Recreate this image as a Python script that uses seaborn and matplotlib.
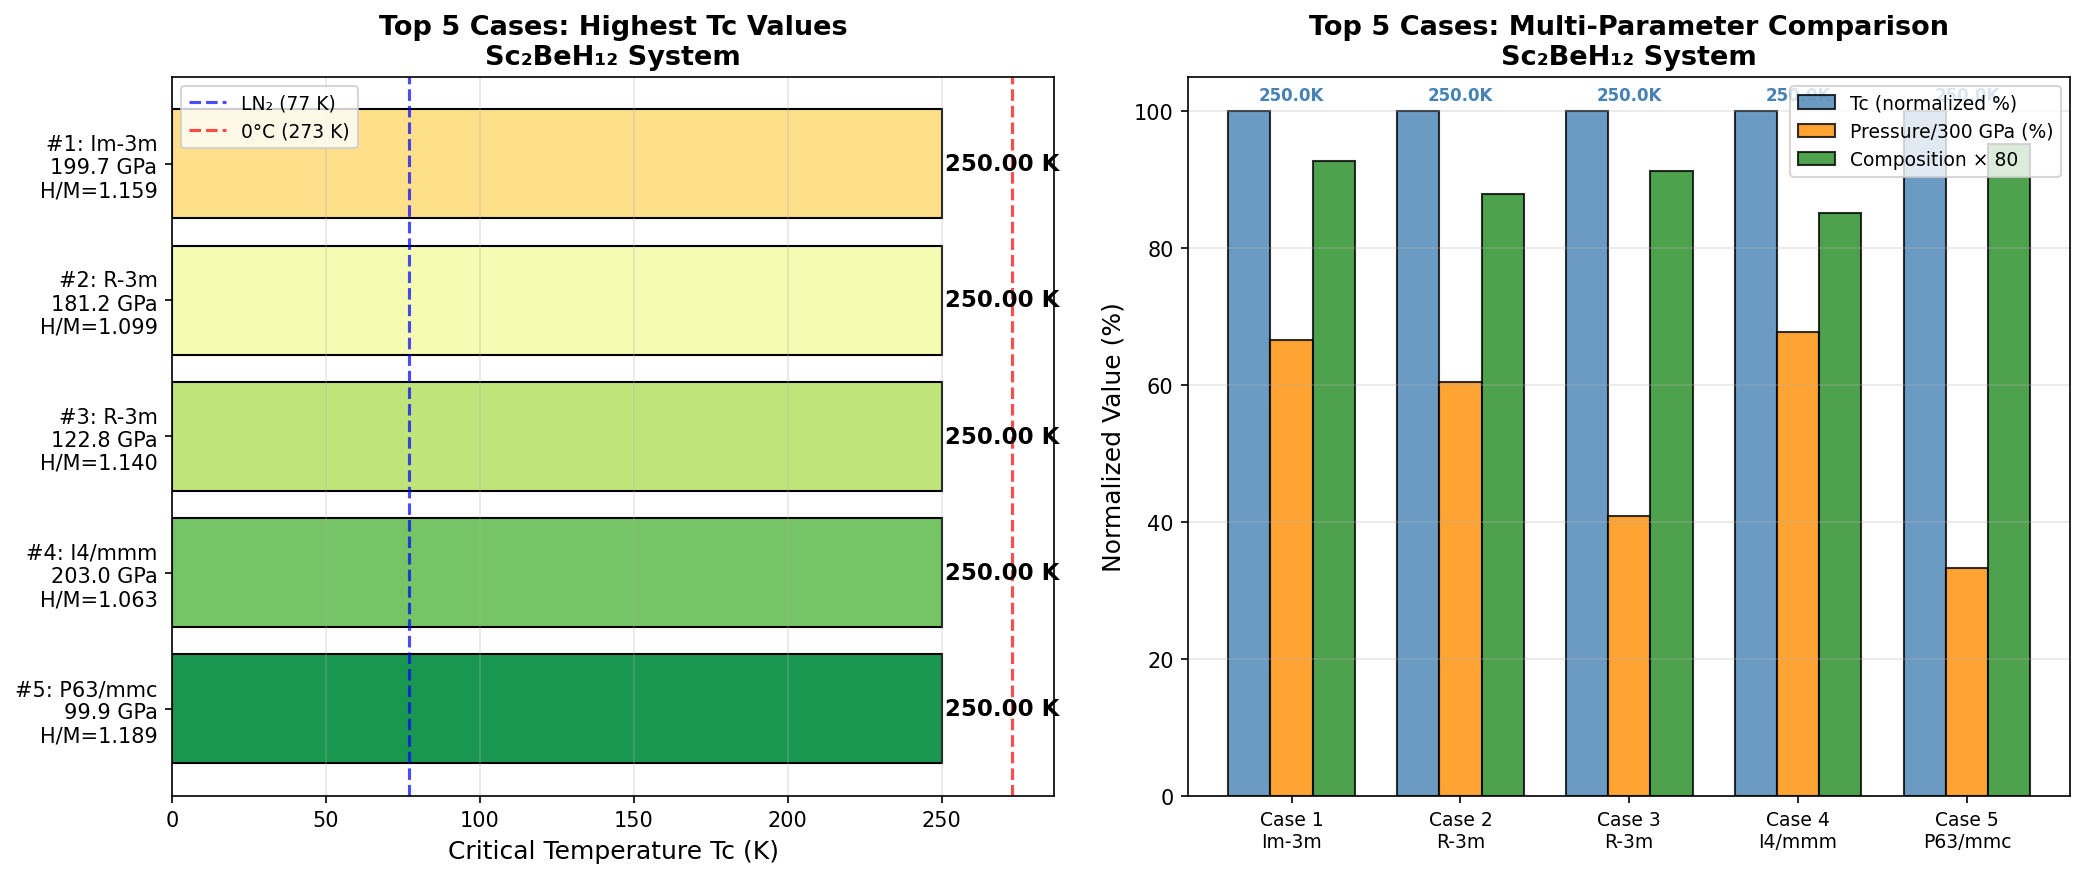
import numpy as np
import pandas as pd
import matplotlib
matplotlib.use("Agg")
import matplotlib.pyplot as plt
import seaborn as sns

# ---- data ----
ranks = [1, 2, 3, 4, 5]
space_groups = ["Im-3m", "R-3m", "R-3m", "I4/mmm", "P63/mmc"]
pressures = [199.7, 181.2, 122.8, 203.0, 99.9]
h_m_ratio = [1.159, 1.099, 1.140, 1.063, 1.189]
tc_values = [250.0, 250.0, 250.0, 250.0, 250.0]
system = "Sc₂BeH₁₂"

plt.rcParams['font.family'] = ['DejaVu Sans']

fig, (ax1, ax2) = plt.subplots(1, 2, figsize=(14, 6))

# ---- left: horizontal bars ----
ylabels = [f"#{r}: {sg}\n{p:.1f} GPa\nH/M={h:.3f}"
           for r, sg, p, h in zip(ranks, space_groups, pressures, h_m_ratio)]
colors = plt.cm.RdYlGn(np.linspace(0.4, 0.9, len(ranks)))
df_left = pd.DataFrame({"label": ylabels, "tc": tc_values})
sns.barplot(data=df_left, y="label", x="tc", hue="label", palette=list(colors),
            orient="h", legend=False, edgecolor="black",
            linewidth=1, width=0.8, saturation=1, ax=ax1)
ax1.axvline(77, color="blue", linestyle="--", alpha=0.7, linewidth=1.5,
            label="LN₂ (77 K)")
ax1.axvline(273, color="red", linestyle="--", alpha=0.7, linewidth=1.5,
            label="0°C (273 K)")
ax1.set_ylim(auto=True)
ax1.set_xlim(auto=True)
ax1.margins(x=0.05, y=0.05)
ax1.autoscale_view()
if not ax1.yaxis_inverted():
    ax1.invert_yaxis()
for i, tc in enumerate(tc_values):
    ax1.text(tc + 1, i, f"{tc:.2f} K", va="center", fontsize=11,
             fontweight="bold")
ax1.set_ylabel("")
ax1.set_xlabel("Critical Temperature Tc (K)", fontsize=12)
ax1.set_title(f"Top 5 Cases: Highest Tc Values\n{system} System",
              fontsize=13, fontweight="bold")
ax1.tick_params(axis="y", labelsize=10)
ax1.grid(True, axis="x", alpha=0.3)
ax1.grid(False, axis="y")
ax1.set_axisbelow("line")
ax1.legend(loc="upper left", fontsize=9)

# ---- right: grouped bars ----
case_labels = [f"Case {r}\n{sg}" for r, sg in zip(ranks, space_groups)]
tc_norm = [t / max(tc_values) * 100 for t in tc_values]
p_norm = [p / 300 * 100 for p in pressures]
comp = [h * 80 for h in h_m_ratio]
metrics = ["Tc (normalized %)", "Pressure/300 GPa (%)", "Composition × 80"]
df_right = pd.DataFrame({
    "case": case_labels * 3,
    "metric": [metrics[0]] * 5 + [metrics[1]] * 5 + [metrics[2]] * 5,
    "value": tc_norm + p_norm + comp,
})
sns.barplot(data=df_right, x="case", y="value", hue="metric",
            palette=["steelblue", "darkorange", "forestgreen"], alpha=0.8,
            edgecolor="black", linewidth=1, width=0.75, saturation=1,
            legend=False, ax=ax2)
ax2.set_xlim(auto=True)
ax2.margins(x=0.05, y=0.05)
ax2.autoscale_view()
for i, tc in enumerate(tc_values):
    ax2.text(i, tc_norm[i] + 1, f"{tc:.1f}K", ha="center", va="bottom",
             fontsize=8, fontweight="bold", color="steelblue")
ax2.set_xlabel("")
ax2.set_ylabel("Normalized Value (%)", fontsize=12)
ax2.set_title(f"Top 5 Cases: Multi-Parameter Comparison\n{system} System",
              fontsize=13, fontweight="bold")
ax2.tick_params(axis="x", labelsize=9)
ax2.grid(True, axis="y", alpha=0.3)
ax2.grid(False, axis="x")
ax2.set_axisbelow("line")
ax2.legend(ax2.containers, metrics, loc="upper right", fontsize=9)

plt.tight_layout()
fig.savefig("out.png", dpi=150, bbox_inches="tight")
